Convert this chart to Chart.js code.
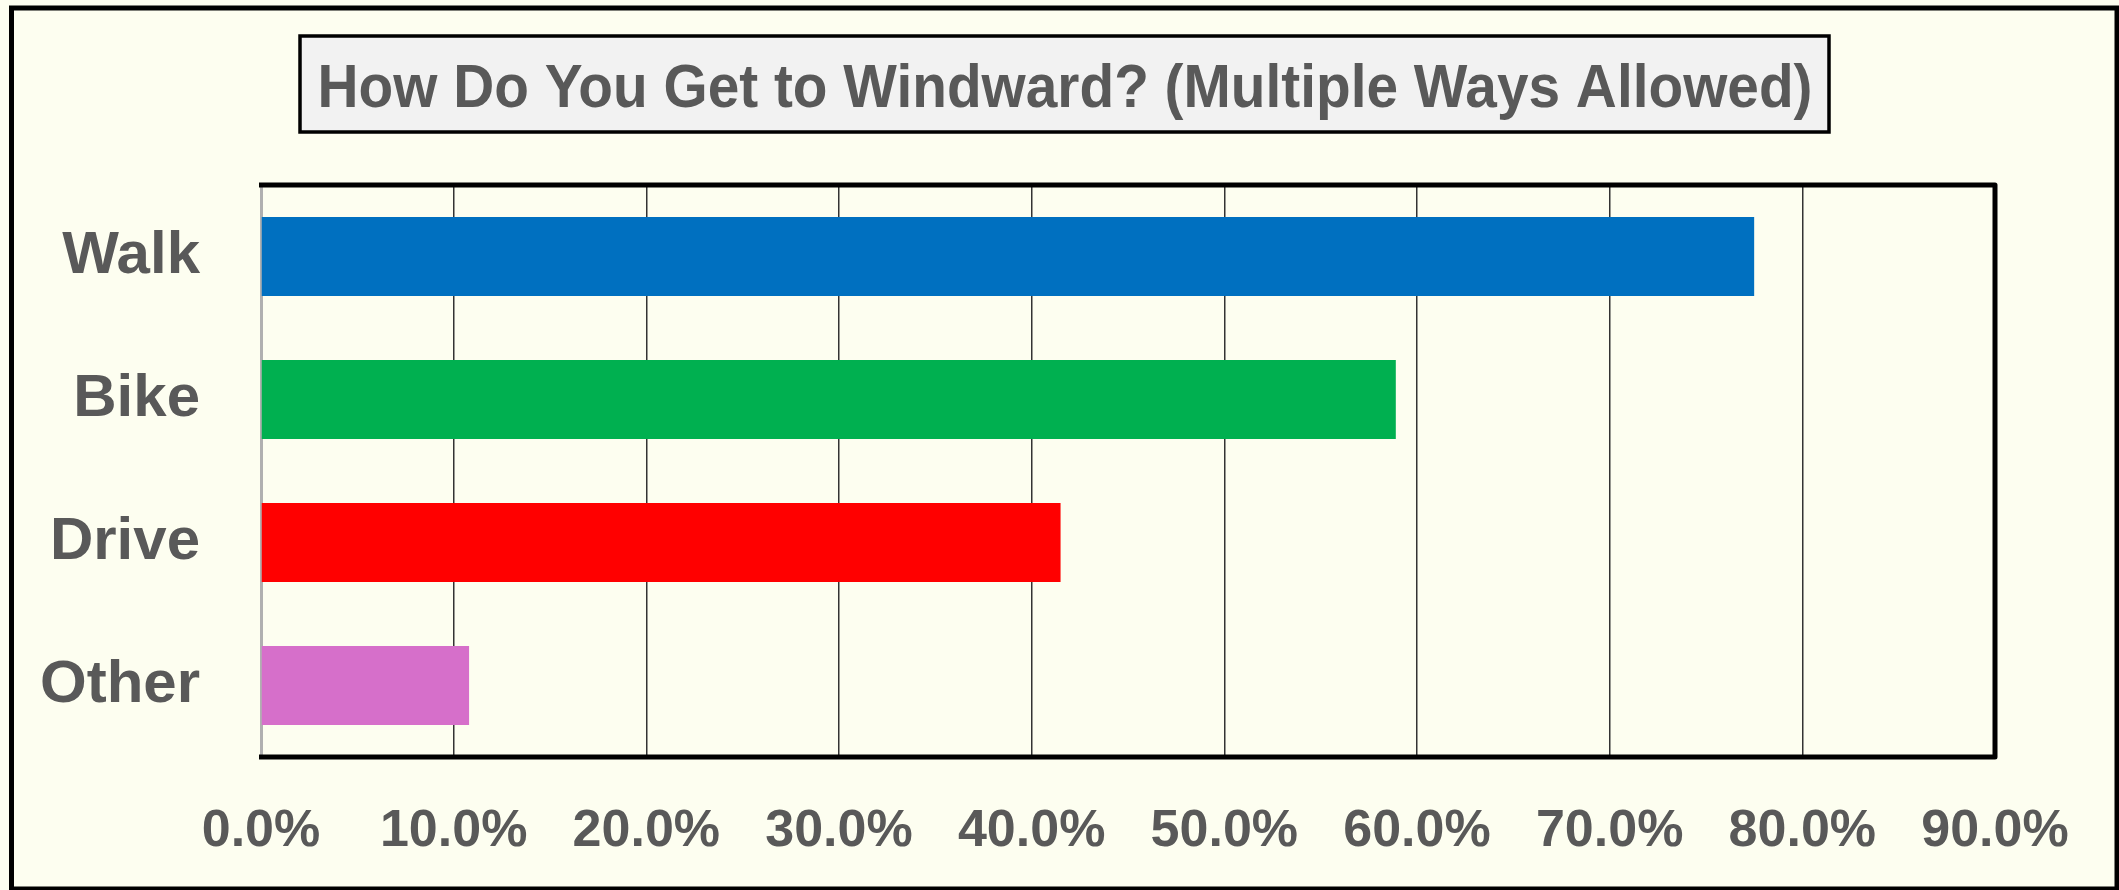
<!DOCTYPE html>
<html>
<head>
<meta charset="utf-8">
<title>How Do You Get to Windward?</title>
<script src="https://cdn.jsdelivr.net/npm/chart.js@4.4.1/dist/chart.umd.min.js"></script>
<style>
  html, body { margin: 0; padding: 0; background: #fdfef0; }
  #wrap { width: 2119px; height: 890px; }
</style>
</head>
<body>
<div id="wrap"><canvas id="travelChart" width="2119" height="890"></canvas></div>
<script>
const chartTitle = "How Do You Get to Windward? (Multiple Ways Allowed)";
const modes = ["Walk", "Bike", "Drive", "Other"];
const shares = [77.5, 58.9, 41.5, 10.8];
const barColors = ["#0070c0", "#00b050", "#ff0000", "#d66fca"];
const axisMax = 90;
const axisStep = 10;

const fontFamily = "'Liberation Sans', Arial, sans-serif";
const textGrey = "#595959";

// background, outer frame, title box and the plot frame
const framePlugin = {
  id: "frame",
  beforeDraw(chart) {
    const ctx = chart.ctx;
    ctx.save();
    ctx.fillStyle = "#fdfef0";
    ctx.fillRect(0, 0, chart.width, chart.height);

    ctx.strokeStyle = "#000";
    ctx.lineWidth = 5;
    ctx.strokeRect(11.5, 8, 2105.5, 881);

    ctx.fillStyle = "#f2f2f2";
    ctx.fillRect(300, 36, 1529, 96);
    ctx.lineWidth = 3.5;
    ctx.strokeRect(300, 36, 1529, 96);

    // title is squeezed a little to match the narrow original face
    ctx.fillStyle = textGrey;
    ctx.font = "bold 61px " + fontFamily;
    ctx.textAlign = "center";
    ctx.textBaseline = "alphabetic";
    ctx.fillText(chartTitle, 1065, 107, 1495);
    ctx.restore();
  },
  afterDatasetsDraw(chart) {
    const { ctx, chartArea } = chart;
    ctx.save();
    ctx.strokeStyle = "#000";
    ctx.lineWidth = 5;
    ctx.lineJoin = "round";
    ctx.beginPath();
    ctx.moveTo(chartArea.left - 2, chartArea.top);
    ctx.lineTo(chartArea.right, chartArea.top);
    ctx.lineTo(chartArea.right, chartArea.bottom);
    ctx.lineTo(chartArea.left - 2, chartArea.bottom);
    ctx.stroke();
    ctx.restore();
  },
};

new Chart(document.getElementById("travelChart"), {
  type: "bar",
  data: {
    labels: modes,
    datasets: [
      {
        data: shares,
        backgroundColor: barColors,
        borderWidth: 0,
        categoryPercentage: 1,
        barPercentage: 0.552,
      },
    ],
  },
  plugins: [framePlugin],
  options: {
    indexAxis: "y",
    responsive: false,
    animation: false,
    layout: { padding: { top: 185, right: 124, bottom: 0, left: 0 } },
    plugins: {
      legend: { display: false },
      title: { display: false },
      tooltip: { enabled: false },
    },
    scales: {
      x: {
        min: 0,
        max: axisMax,
        ticks: {
          stepSize: axisStep,
          color: textGrey,
          font: { family: fontFamily, size: 52, weight: "bold" },
          padding: 43,
          callback: (v) => v.toFixed(1) + "%",
        },
        grid: { color: "#333", lineWidth: 1.5, drawTicks: false },
        border: { display: false },
        afterFit: (scale) => { scale.height = 133; },
      },
      y: {
        ticks: {
          color: textGrey,
          font: { family: fontFamily, size: 60, weight: "bold" },
          padding: 61,
        },
        grid: { display: false, drawTicks: false },
        border: { color: "#b0b0b0", width: 3 },
        afterFit: (scale) => { scale.width = 261; },
      },
    },
  },
});
</script>
</body>
</html>
